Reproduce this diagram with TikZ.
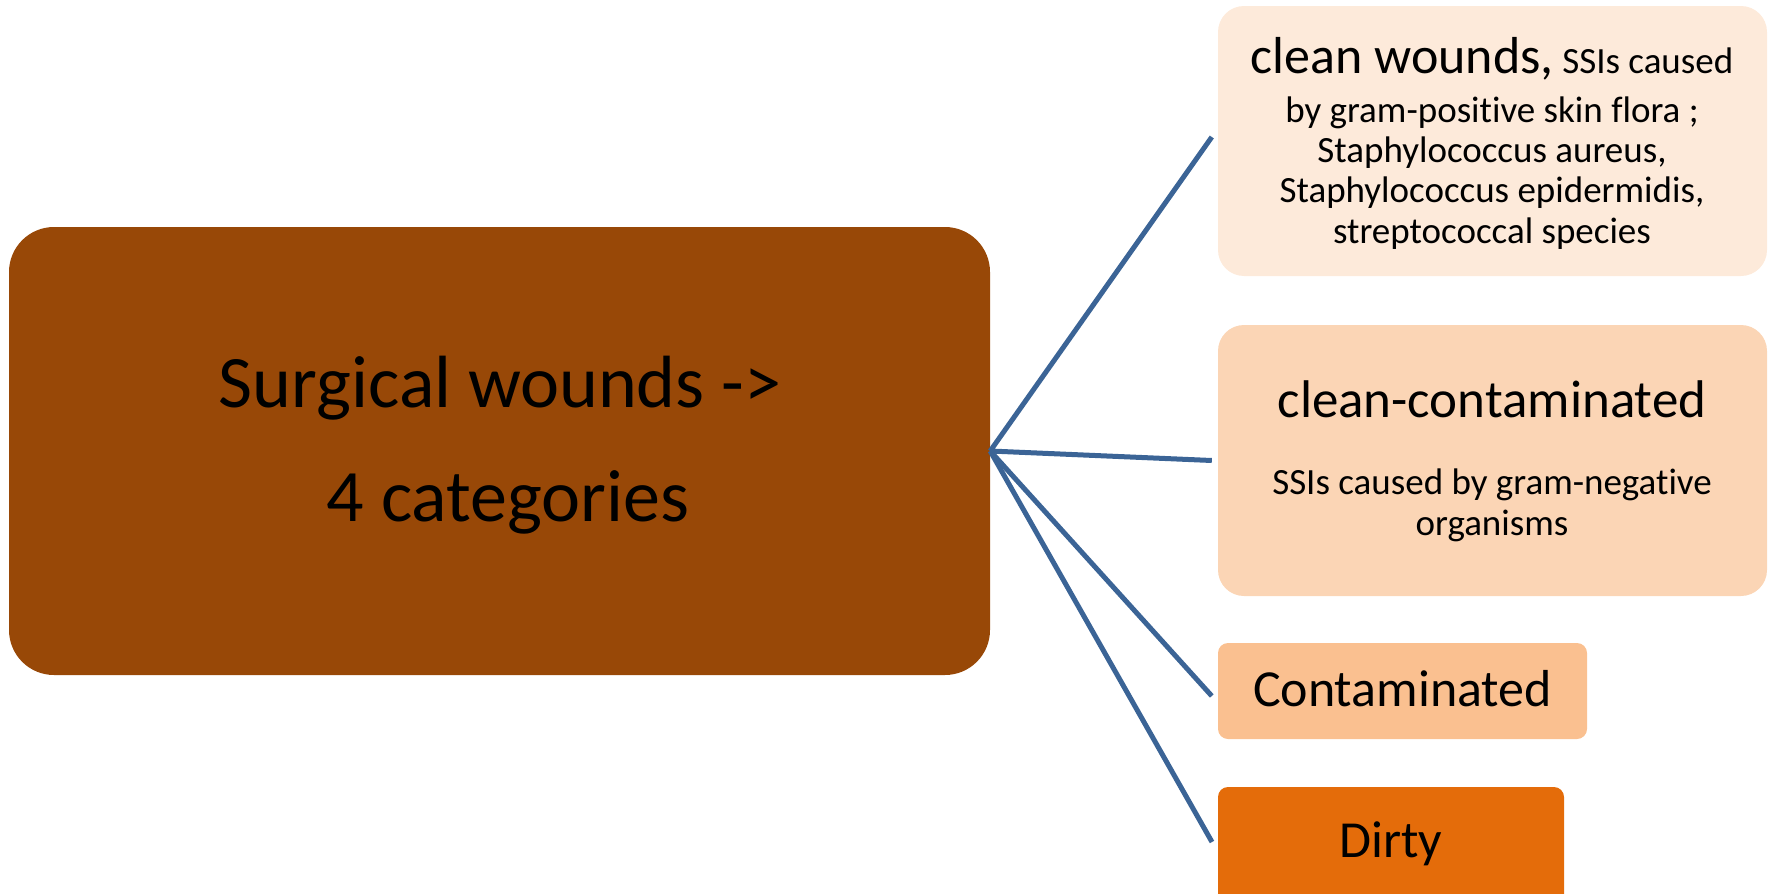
\documentclass[tikz,border=0pt]{standalone}
\usepackage{fontspec}
\setmainfont{Carlito}[Ligatures={TeX,NoCommon}]
\definecolor{mainbrown}{HTML}{984807}
\definecolor{peachA}{HTML}{FDEADA}
\definecolor{peachB}{HTML}{FBD5B5}
\definecolor{peachC}{HTML}{FAC090}
\definecolor{orangeD}{HTML}{E46C0A}
\definecolor{linecol}{HTML}{3B6496}
\begin{document}
\begin{tikzpicture}[x=1pt,y=-1pt,
  box/.style={rectangle, rounded corners=#1, inner sep=0pt, draw=none},
  conn/.style={draw=linecol, line width=5pt, line join=round},
  txt/.style={anchor=base, inner sep=0pt, text=black},
  big/.style={font=\fontsize{52}{56}\selectfont},
  small/.style={font=\fontsize{37}{41}\selectfont}]
\useasboundingbox (0,0) rectangle (1773,894);
\clip (0,0) rectangle (1773,894);

% boxes
\node[box=45pt, fill=mainbrown, minimum width=981pt, minimum height=448pt] (main) at (499.5,451) {};
\node[box=26pt, fill=peachA, minimum width=549pt, minimum height=270pt] (b1) at (1492.5,141) {};
\node[box=26pt, fill=peachB, minimum width=549pt, minimum height=271pt] (b2) at (1492.5,460.5) {};
\node[box=10pt, fill=peachC, minimum width=369pt, minimum height=96pt] (b3) at (1402.5,691) {};
\node[box=10pt, fill=orangeD, minimum width=346pt, minimum height=160pt] (b4) at (1391,867) {};

% connectors
\coordinate (e4) at (1212,842);
\draw[conn] (main.east) -- ([xshift=-6pt,yshift=4pt]b1.west);
\draw[conn] (main.east) -- ([xshift=-6pt]b2.west);
\draw[conn] (main.east) -- ([xshift=-6pt,yshift=-5pt]b3.west);
\draw[conn] (main.east) -- (e4);

% main text
\node[txt, font=\fontsize{74}{80}\selectfont] (m1) at (500,407) {Surgical wounds ->};
\node[txt, font=\fontsize{74}{80}\selectfont] (m2) at (508,521) {4 categories};

% box 1 text
\node[txt] (t11) at (1492,73) {{\fontsize{52}{56}\selectfont clean wounds,}{\fontsize{37}{41}\selectfont\ SSIs caused}};
\node[txt, small] (t12) at (1492,122) {by gram-positive skin flora ;};
\node[txt, small] (t13) at (1492,162) {Staphylococcus aureus,};
\node[txt, small] (t14) at (1492,202) {Staphylococcus epidermidis,};
\node[txt, small] (t15) at (1492,243) {streptococcal species};

% box 2 text
\node[txt, font=\fontsize{53}{57}\selectfont] (t21) at (1492,417) {clean-contaminated};
\node[txt, small] (t22) at (1492,494) {SSIs caused by gram-negative};
\node[txt, small] (t23) at (1492,535) {organisms};

% box 3, 4 text
\node[txt, big] (t3) at (1402.5,706) {Contaminated};
\node[txt, big] (t4) at (1391,857) {Dirty};
\end{tikzpicture}
\end{document}
